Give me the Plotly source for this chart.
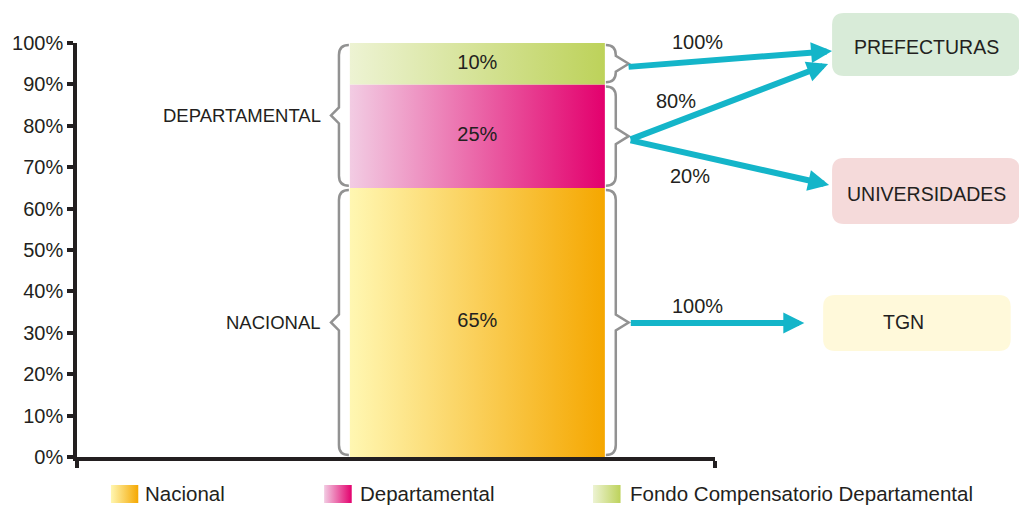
import base64
import plotly.graph_objects as go

# ---------------- data ----------------
categories = ["Nacional", "Departamental", "Fondo Compensatorio Departamental"]
shares = [65, 25, 10]
bar_labels = ["65%", "25%", "10%"]
group_labels = ["NACIONAL", "DEPARTAMENTAL"]
group_members = [[0], [1, 2]]
y_ticks = [0, 10, 20, 30, 40, 50, 60, 70, 80, 90, 100]
y_tick_labels = ["0%", "10%", "20%", "30%", "40%", "50%", "60%", "70%", "80%", "90%", "100%"]
destinations = ["PREFECTURAS", "UNIVERSIDADES", "TGN"]
flow_labels = ["100%", "80%", "20%", "100%"]

# ---------------- styles ----------------
grad_colors = [("#fff7b2", "#f5a700"), ("#f2cce3", "#e3006d"), ("#edf3d3", "#bdd25a")]
box_colors = ["#d8ebd8", "#f5dada", "#fff9da"]
TXT = "#231f20"
ARROW = "#14b5c9"
BRACE = "#929292"
SANS = "Liberation Sans, Arial, sans-serif"

W, H = 1019, 506
PL, PR, PT, PB = 72, 715, 43, 457          # plot area in pixels


def fx(px):   # pixel x -> paper / data x (x range is [0,1])
    return (px - PL) / (PR - PL)


def fy(py):   # pixel y -> paper y
    return (PB - py) / (PB - PT)


YS = (PB - PT) / 100.0                       # pixels per data unit

bottoms, tops = [], []
acc = 0
for s in shares:
    bottoms.append(acc)
    acc += s
    tops.append(acc)

XL, XR = fx(347), fx(604)
XC = (XL + XR) / 2

fig = go.Figure()

# stacked bar segments with horizontal gradient
for i, cat in enumerate(categories):
    b, t = bottoms[i], tops[i]
    fig.add_trace(go.Scatter(
        x=[XL, XR, XR, XL, XL], y=[b, b, t, t, b],
        mode="lines", fill="toself",
        fillgradient=dict(type="horizontal",
                          colorscale=[[0, grad_colors[i][0]], [1, grad_colors[i][1]]]),
        line=dict(width=0), name=cat, showlegend=False, hoverinfo="skip"))

# bar value labels
fig.add_trace(go.Scatter(
    x=[XC] * len(shares), y=[(b + t) / 2 for b, t in zip(bottoms, tops)],
    mode="text", text=bar_labels, showlegend=False, hoverinfo="skip",
    textfont=dict(family=SANS, size=20, color=TXT)))

shapes = []
annotations = []


def brace(y0, y1, side):
    inset = 0.5
    y0, y1 = y0 + inset, y1 - inset
    if side == "left":
        xa, xb, xt = fx(346), fx(336), fx(328)
    else:
        xa, xb, xt = fx(605), fx(615), fx(628)
    ry = 10 / YS
    th = 8 / YS
    ym = (y0 + y1) / 2
    path = (f"M {xa},{y1} Q {xb},{y1} {xb},{y1 - ry} L {xb},{ym + th} "
            f"L {xt},{ym} L {xb},{ym - th} L {xb},{y0 + ry} Q {xb},{y0} {xa},{y0}")
    shapes.append(dict(type="path", path=path, xref="x", yref="y",
                       line=dict(color=BRACE, width=2.5), layer="above"))
    return ym


# left braces + group labels
for lab, mem in zip(group_labels, group_members):
    y0 = bottoms[mem[0]]
    y1 = tops[mem[-1]]
    ym = brace(y0, y1, "left")
    annotations.append(dict(x=fx(320), y=ym, xref="x", yref="y", text=lab,
                            showarrow=False, xanchor="right", yanchor="middle",
                            font=dict(family=SANS, size=18.5, color=TXT)))

# right braces for each segment
for i in range(len(shares)):
    brace(bottoms[i], tops[i], "right")


# destination boxes (rounded)
def rrect(x0, y0, x1, y1, r):
    pts = [("M", [(x0 + r, y0)]), ("L", [(x1 - r, y0)]), ("Q", [(x1, y0), (x1, y0 + r)]),
           ("L", [(x1, y1 - r)]), ("Q", [(x1, y1), (x1 - r, y1)]), ("L", [(x0 + r, y1)]),
           ("Q", [(x0, y1), (x0, y1 - r)]), ("L", [(x0, y0 + r)]), ("Q", [(x0, y0), (x0 + r, y0)])]
    s = ""
    for cmd, ps in pts:
        s += cmd + " " + " ".join(f"{fx(a):.5f},{fy(b):.5f}" for a, b in ps) + " "
    return s + "Z"


box_px = [(833, 13, 1022, 76), (833, 158, 1022, 224), (824, 295, 1013, 351)]
box_text_pos = [(928, 47), (928, 194), (905, 322)]
for i, name in enumerate(destinations):
    x0, y0, x1, y1 = box_px[i]
    shapes.append(dict(type="path", path=rrect(x0, y0, x1, y1, 12), xref="paper", yref="paper",
                       fillcolor=box_colors[i], line=dict(width=0), layer="below"))
    tx, ty = box_text_pos[i]
    annotations.append(dict(x=fx(tx), y=fy(ty), xref="paper", yref="paper", text=name,
                            showarrow=False, xanchor="center", yanchor="middle",
                            font=dict(family=SANS, size=19.5, color=TXT)))

# arrows (tail -> head) in pixels
arrows = [((628, 67), (833, 51)), ((630, 140), (829, 64)),
          ((630, 140), (830, 185)), ((630, 323), (805, 323))]
for (tx, ty), (hx, hy) in arrows:
    annotations.append(dict(x=fx(hx), y=fy(hy), xref="paper", yref="paper",
                            ax=tx - hx, ay=ty - hy, axref="pixel", ayref="pixel",
                            text="", showarrow=True, arrowhead=2, arrowsize=0.7,
                            arrowwidth=6, arrowcolor=ARROW, standoff=0, startstandoff=0,
                            font=dict(size=1)))

flow_label_pos = [(697, 42), (676, 101), (690, 176), (697, 306)]
for lab, (lx, ly) in zip(flow_labels, flow_label_pos):
    annotations.append(dict(x=fx(lx), y=fy(ly), xref="paper", yref="paper", text=lab,
                            showarrow=False, xanchor="center", yanchor="middle",
                            font=dict(family=SANS, size=20, color=TXT)))

# custom legend with gradient swatches
images = []
leg_swatch_x = [106, 321, 592]
leg_text_x = [139, 355, 627]
for i, cat in enumerate(categories):
    c0, c1 = grad_colors[i]
    svg = ('<svg xmlns="http://www.w3.org/2000/svg" width="28" height="18" preserveAspectRatio="none">'
           '<defs><linearGradient id="g" x1="0" y1="0" x2="1" y2="0">'
           f'<stop offset="0" stop-color="{c0}"/><stop offset="1" stop-color="{c1}"/>'
           '</linearGradient></defs><rect width="28" height="18" fill="url(#g)"/></svg>')
    src = "data:image/svg+xml;base64," + base64.b64encode(svg.encode()).decode()
    images.append(dict(source=src, xref="paper", yref="paper", x=fx(leg_swatch_x[i]), y=fy(485),
                       sizex=28 / (PR - PL), sizey=18 / (PB - PT), xanchor="left", yanchor="top",
                       sizing="stretch", layer="above"))
    annotations.append(dict(x=fx(leg_text_x[i]), y=fy(493.5), xref="paper", yref="paper", text=cat,
                            showarrow=False, xanchor="left", yanchor="middle",
                            font=dict(family=SANS, size=20.5, color=TXT)))

fig.update_layout(
    width=W, height=H,
    margin=dict(l=PL, r=W - PR, t=PT, b=H - PB, pad=0),
    paper_bgcolor="white", plot_bgcolor="white",
    showlegend=False,
    shapes=shapes, annotations=annotations, images=images,
    xaxis=dict(range=[0, 1], showgrid=False, zeroline=False, showline=True,
               linecolor=TXT, linewidth=3.5, ticks="outside", tickvals=[0, 1],
               ticklen=7, tickwidth=3.5, tickcolor=TXT, showticklabels=False,
               fixedrange=True),
    yaxis=dict(range=[0, 100], showgrid=False, zeroline=False, showline=True,
               linecolor=TXT, linewidth=3.5, ticks="outside", tickvals=y_ticks,
               ticktext=y_tick_labels, ticklen=6, tickwidth=3.5, tickcolor=TXT,
               tickfont=dict(family=SANS, size=20, color=TXT), fixedrange=True),
)

fig.write_html("out.html", config={"displayModeBar": False},
               post_script="document.body.style.margin='0';document.body.style.overflow='hidden';")
